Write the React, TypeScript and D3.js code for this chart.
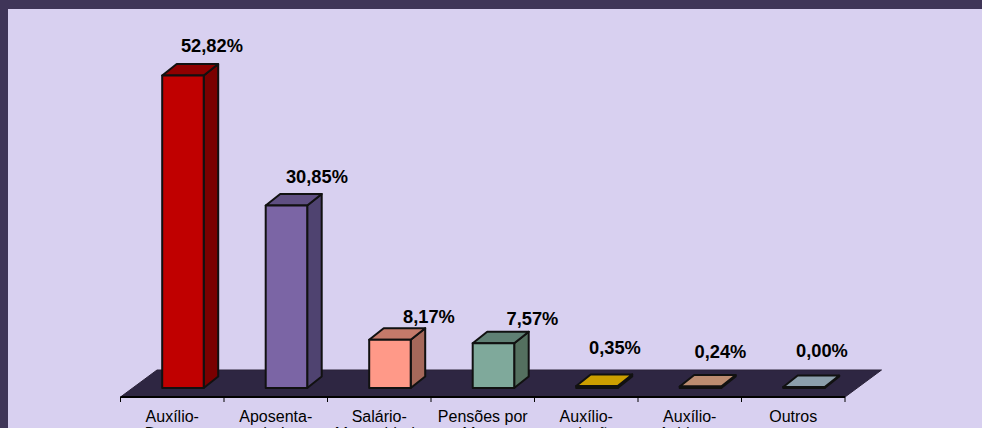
import React from "react";
import * as d3 from "d3";

const categories = [
  ["Auxílio-", "Doença"],
  ["Aposenta-", "doria"],
  ["Salário-", "Maternidade"],
  ["Pensões por", "Morte"],
  ["Auxílio-", "reclusão"],
  ["Auxílio-", "Acidente"],
  ["Outros", ""],
];
const values = [52.82, 30.85, 8.17, 7.57, 0.35, 0.24, 0.0];
const labels = ["52,82%", "30,85%", "8,17%", "7,57%", "0,35%", "0,24%", "0,00%"];
const frontColors = ["#c00000", "#7b65a5", "#ff9988", "#7fa99b", "#cc9f00", "#bc8c70", "#8c9fac"];
const topColors = ["#8f0000", "#5f4f82", "#c47a6a", "#5f8074", "#cc9f00", "#bc8c70", "#8c9fac"];
const sideColors = ["#7a0000", "#4f4370", "#a5685a", "#54705f", "#6e5600", "#6e5040", "#55606a"];
const labelGaps = [30, 28, 23, 24, 38, 35, 36];
const labelShifts = [29, 30.5, 39, 39, 18, 20, 18];

const W = 982, H = 428;
const floorX0 = 120.5, floorX1 = 845, floorY = 397;
const depthX = 36.5, depthY = 27;
const barDx = 14.5, barDy = 11.5;
const barBase = 388;

const x = d3.scaleBand<number>().domain(d3.range(values.length)).range([floorX0, floorX1]);
const y = d3.scaleLinear().domain([0, 52.82]).range([barBase, 75.5]);
const poly = (pts: number[][]) => {
  const p = d3.path();
  pts.forEach(([a, b], i) => (i ? p.lineTo(a, b) : p.moveTo(a, b)));
  p.closePath();
  return p.toString();
};

export default function App() {
  const bw = x.bandwidth();
  return (
    <svg width={W} height={H} viewBox={`0 0 ${W} ${H}`} style={{ position: "fixed", left: 0, top: 0, display: "block" }} fontFamily="'Liberation Sans', Arial, sans-serif">
      <rect width={W} height={H} fill="#d8d0f0" />
      <rect width={W} height={9} fill="#3f3558" />
      <rect width={8} height={H} fill="#3f3558" />
      <path d={poly([[floorX0, floorY], [floorX1, floorY], [floorX1 + depthX, floorY - depthY], [floorX0 + depthX, floorY - depthY]])} fill="#2e2642" stroke="#2a2238" strokeWidth={1} />
      <line x1={floorX0} x2={floorX1} y1={floorY} y2={floorY} stroke="#000" strokeWidth={2} />
      {d3.range(values.length + 1).map((i) => {
        const tx = floorX0 + i * bw;
        return <line key={i} x1={tx} x2={tx} y1={floorY} y2={floorY + 5} stroke="#000" strokeWidth={1} />;
      })}
      {values.map((v, i) => {
        const cx = (x(i) as number) + bw / 2 + 10.7;
        const l = cx - 20.75, r = cx + 20.75;
        const t = Math.min(y(v), barBase - 1);
        return (
          <g key={i} stroke="#111" strokeWidth={2} strokeLinejoin="round">
            <path d={poly([[r, t], [r + barDx, t - barDy], [r + barDx, barBase - barDy], [r, barBase]])} fill={sideColors[i]} />
            <path d={poly([[l, t], [r, t], [r + barDx, t - barDy], [l + barDx, t - barDy]])} fill={topColors[i]} />
            <rect x={l} y={t} width={r - l} height={barBase - t} fill={frontColors[i]} />
            <text x={cx + labelShifts[i]} y={t - labelGaps[i] + 6} textAnchor="middle" fontSize={18.3} fontWeight={700} fill="#000" stroke="none">{labels[i]}</text>
          </g>
        );
      })}
      {categories.map((c, i) => (
        <text key={i} x={(x(i) as number) + bw / 2} textAnchor="middle" fontSize={16} fill="#000">
          <tspan x={(x(i) as number) + bw / 2} y={421.5}>{c[0]}</tspan>
          <tspan x={(x(i) as number) + bw / 2} y={438.5}>{c[1]}</tspan>
        </text>
      ))}
    </svg>
  );
}
